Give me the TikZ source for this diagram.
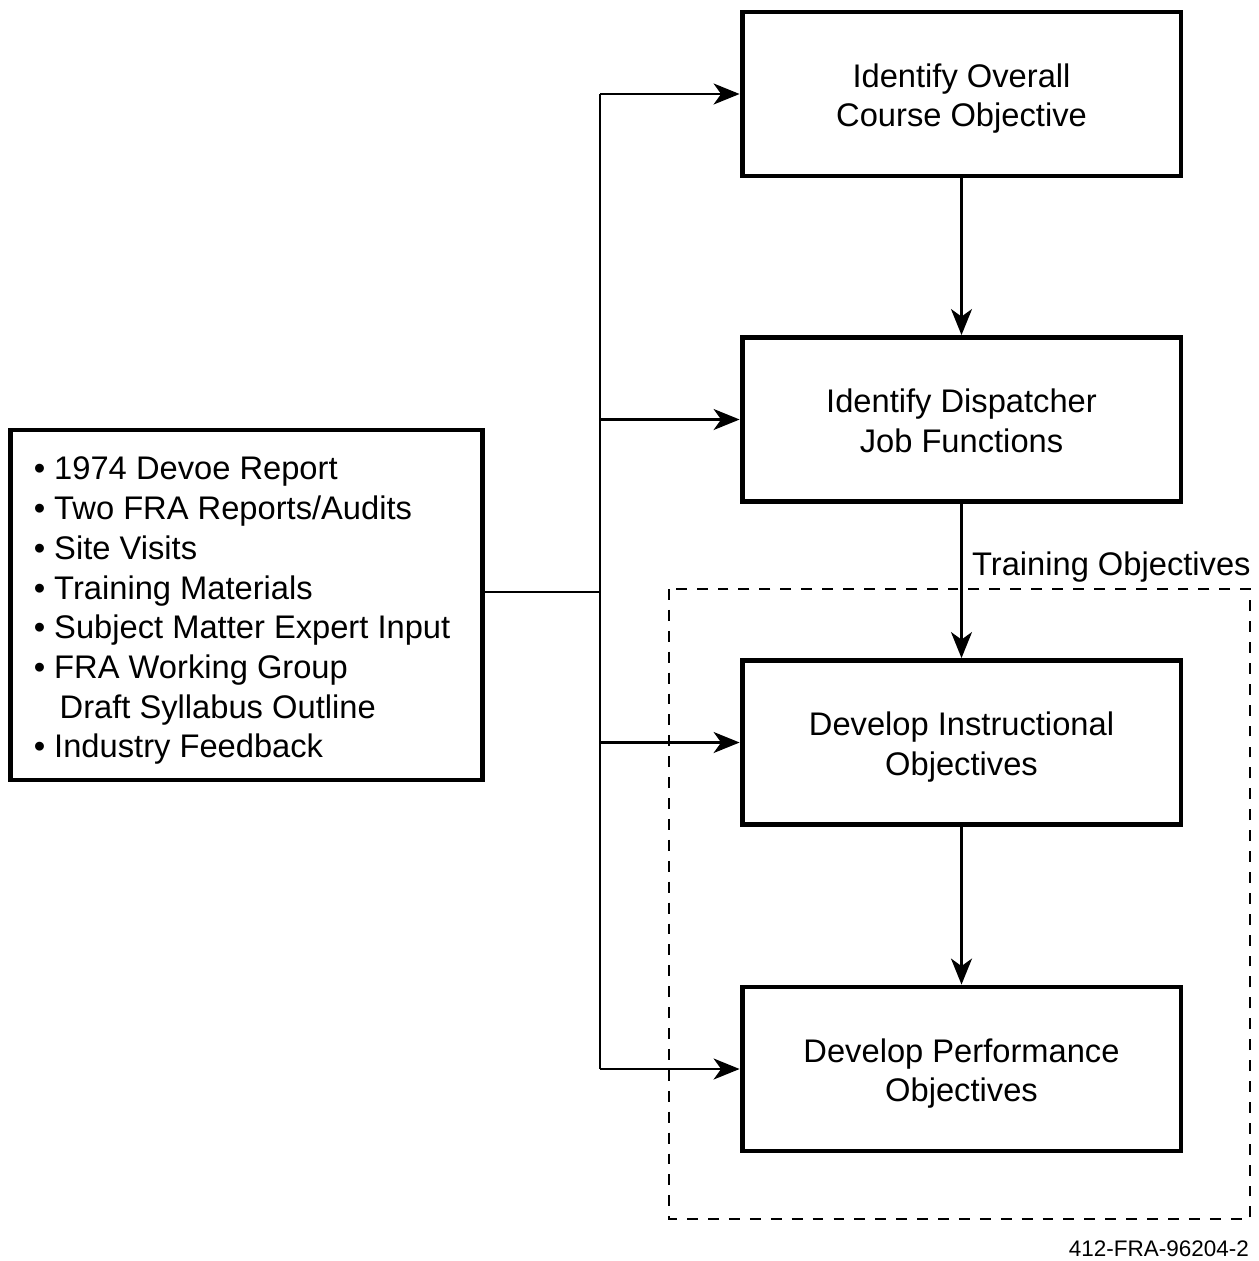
\documentclass[tikz,border=0pt]{standalone}
\usepackage{fontspec}
\setmainfont{Liberation Sans}
\usetikzlibrary{arrows.meta}
\newcommand\lowered[3]{\raisebox{-#1}[\height][\depth]{\begin{tabular}{@{}#2@{}}#3\end{tabular}}}
\tikzset{
  stepbox/.style={draw, line width=2.8pt, minimum width=8.78cm, minimum height=3.28cm},
  srcbox/.style={draw, line width=2.8pt, minimum width=9.46cm, minimum height=7cm},
  conn/.style={line width=1.4pt},
  arr/.style={line width=1.4pt, -{Stealth[length=0.52cm, width=0.42cm, inset=0.15cm]}},
  groupbox/.style={line width=1.5pt, dash pattern=on 6.2pt off 5.7pt}
}
\begin{document}
\begin{tikzpicture}[x=0.02cm, y=-0.02cm, font=\fontsize{18.6}{22.6}\selectfont]
\useasboundingbox (0,0) rectangle (1258,1261);

\node[stepbox] (b1) at (961.5,94) {\lowered{0.1cm}{c}{Identify Overall\\Course Objective}};
\node[stepbox] (b2) at (961.5,419.5) {\lowered{0.1cm}{c}{Identify Dispatcher\\Job Functions}};
\node[stepbox] (b3) at (961.5,742.5) {\lowered{0.1cm}{c}{Develop Instructional\\Objectives}};
\node[stepbox] (b4) at (961.5,1069) {\lowered{0.1cm}{c}{Develop Performance\\Objectives}};

\node[srcbox] (src) at (246.5,605) {\hspace*{-0.18cm}\lowered{0.12cm}{l}{%
\textbullet\ 1974 Devoe Report\\
\textbullet\ Two FRA Reports/Audits\\
\textbullet\ Site Visits\\
\textbullet\ Training Materials\\
\textbullet\ Subject Matter Expert Input\\
\textbullet\ FRA Working Group\\
\hphantom{\textbullet\ }\,Draft Syllabus Outline\\
\textbullet\ Industry Feedback}};

\draw[groupbox] (669,589) rectangle (1250,1219);

\coordinate (j) at (600,592);
\draw[conn] (src.east |- j) -- (j);
\draw[conn] (b1.west -| j) -- (b4.west -| j);
\foreach \b in {b1,b2,b3,b4}
  \draw[arr] (\b.west -| j) -- (\b.west);

\draw[arr] (b1) -- (b2);
\draw[arr] (b2) -- node[pos=0.41, right=2pt] (lbl) {Training Objectives} (b3);
\draw[arr] (b3) -- (b4);

\node[anchor=east, font=\fontsize{12.8}{15}\selectfont] (tag) at (1255,1249) {412-FRA-96204-2};
\end{tikzpicture}
\end{document}
